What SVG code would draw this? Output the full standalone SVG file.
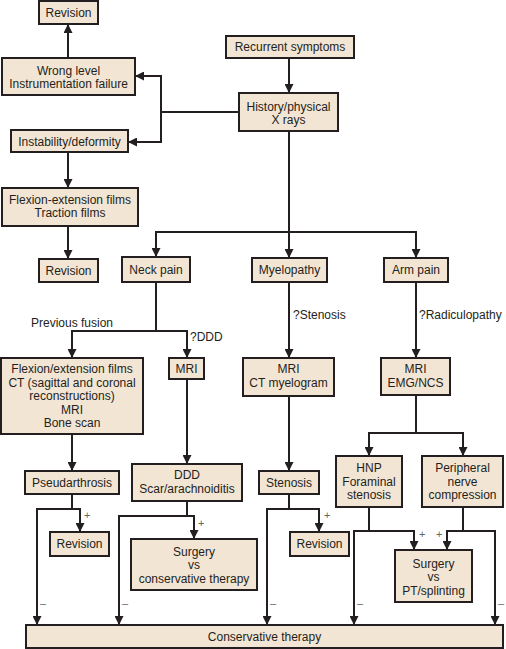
<svg xmlns="http://www.w3.org/2000/svg" width="506" height="649" viewBox="0 0 506 649">
<style>
.b rect{fill:#f3e5d4;stroke:#231f20;stroke-width:2}
text{font-family:"Liberation Sans",Arial,sans-serif;font-size:12px;fill:#231f20}
.c{text-anchor:middle}
.l{fill:none;stroke:#231f20;stroke-width:2}
.s{font-size:11px;fill:#666}
</style>
<defs>
<marker id="a" viewBox="0 0 10 10" refX="10" refY="5" markerWidth="11" markerHeight="9" markerUnits="userSpaceOnUse" orient="auto">
<path d="M0,0 L10,5 L0,10 z" fill="#231f20"/>
</marker>
</defs>
<rect width="506" height="649" fill="#fff"/>
<g id="connectors" class="l" marker-end="url(#a)">
<path d="M68,58 V24"/>
<path d="M289,58 V93"/>
<path d="M239,112 H161 V76 H135"/>
<path d="M161,112 V142 H128"/>
<path d="M68,152 V188"/>
<path d="M68,226 V259"/>
<path d="M289,131 V258"/>
<path d="M289,232 H156 V257"/>
<path d="M289,232 H416 V258"/>
<path d="M156,282 V331 H72 V358"/>
<path d="M156,331 H187 V358"/>
<path d="M289,282 V358"/>
<path d="M416,282 V358"/>
<path d="M187,379 V464"/>
<path d="M289,396 V471"/>
<path d="M72,434 V471"/>
<path d="M416,395 V433 H369 V456"/>
<path d="M416,433 H463 V456"/>
<path d="M72,494 V509 H37 V625"/>
<path d="M72,509 H80 V532"/>
<path d="M187,501 V516 H119 V625"/>
<path d="M187,516 H194 V539"/>
<path d="M289,494 V509 H267 V625"/>
<path d="M289,509 H319 V532"/>
<path d="M369,507 V531 H354 V625"/>
<path d="M369,531 H414 V550"/>
<path d="M463,507 V531 H495 V625"/>
<path d="M463,531 H447 V550"/>
</g>
<g id="labels">
<text x="31" y="327">Previous fusion</text>
<text x="190" y="341">?DDD</text>
<text x="293" y="319">?Stenosis</text>
<text x="419" y="319">?Radiculopathy</text>
<text class="s" x="84" y="519">+</text>
<text class="s" x="198" y="527">+</text>
<text class="s" x="324" y="519">+</text>
<text class="s" x="419" y="538">+</text>
<text class="s" x="436" y="538">+</text>
<text class="s" x="40" y="607">–</text>
<text class="s" x="122" y="607">–</text>
<text class="s" x="270" y="607">–</text>
<text class="s" x="357" y="607">–</text>
<text class="s" x="498" y="607">–</text>
</g>
<g id="rev1" class="b"><rect x="39" y="1" width="59" height="23"/><text class="c" x="68.5" y="17">Revision</text></g>
<g id="wrong" class="b"><rect x="2" y="58" width="133" height="37"/><text class="c" x="68.5" y="74.5">Wrong level</text><text class="c" x="68.5" y="87.5">Instrumentation failure</text></g>
<g id="instab" class="b"><rect x="11" y="130" width="117" height="22"/><text class="c" x="69.5" y="146">Instability/deformity</text></g>
<g id="flexext" class="b"><rect x="2" y="188" width="136" height="38"/><text class="c" x="70" y="204">Flexion-extension films</text><text class="c" x="70" y="217">Traction films</text></g>
<g id="rev2" class="b"><rect x="39" y="259" width="59" height="23"/><text class="c" x="68.5" y="274.5">Revision</text></g>
<g id="recurrent" class="b"><rect x="226" y="36" width="128" height="22"/><text class="c" x="290" y="51">Recurrent symptoms</text></g>
<g id="history" class="b"><rect x="239" y="93" width="99" height="38"/><text class="c" x="288.5" y="110.5">History/physical</text><text class="c" x="288.5" y="124">X rays</text></g>
<g id="neck" class="b"><rect x="122" y="257" width="68" height="25"/><text class="c" x="156" y="274">Neck pain</text></g>
<g id="myelo" class="b"><rect x="252" y="258" width="75" height="24"/><text class="c" x="289.5" y="274">Myelopathy</text></g>
<g id="arm" class="b"><rect x="384" y="258" width="64" height="24"/><text class="c" x="416" y="274">Arm pain</text></g>
<g id="flexct" class="b"><rect x="1" y="358" width="142" height="76"/><text class="c" x="72" y="373">Flexion/extension films</text><text class="c" x="72" y="386.5">CT (sagittal and coronal</text><text class="c" x="72" y="400">reconstructions)</text><text class="c" x="72" y="413.5">MRI</text><text class="c" x="72" y="427">Bone scan</text></g>
<g id="mri1" class="b"><rect x="169" y="358" width="35" height="21"/><text class="c" x="186.5" y="373">MRI</text></g>
<g id="mrict" class="b"><rect x="243" y="358" width="91" height="38"/><text class="c" x="288.5" y="373">MRI</text><text class="c" x="288.5" y="386.5">CT myelogram</text></g>
<g id="mriemg" class="b"><rect x="381" y="358" width="69" height="37"/><text class="c" x="415.5" y="373">MRI</text><text class="c" x="415.5" y="387">EMG/NCS</text></g>
<g id="pseud" class="b"><rect x="25" y="471" width="94" height="23"/><text class="c" x="72" y="487">Pseudarthrosis</text></g>
<g id="ddd" class="b"><rect x="132" y="464" width="110" height="37"/><text class="c" x="187" y="479">DDD</text><text class="c" x="187" y="492.5">Scar/arachnoiditis</text></g>
<g id="stenosis" class="b"><rect x="259" y="471" width="60" height="23"/><text class="c" x="289" y="487">Stenosis</text></g>
<g id="hnp" class="b"><rect x="336" y="456" width="66" height="51"/><text class="c" x="369" y="472">HNP</text><text class="c" x="369" y="486">Foraminal</text><text class="c" x="369" y="499">stenosis</text></g>
<g id="periph" class="b"><rect x="422" y="456" width="81" height="51"/><text class="c" x="462.5" y="472">Peripheral</text><text class="c" x="462.5" y="486">nerve</text><text class="c" x="462.5" y="499">compression</text></g>
<g id="rev3" class="b"><rect x="50" y="532" width="59" height="24"/><text class="c" x="79.5" y="548">Revision</text></g>
<g id="surgcons" class="b"><rect x="131" y="539" width="126" height="51"/><text class="c" x="194" y="555.5">Surgery</text><text class="c" x="194" y="569">vs</text><text class="c" x="194" y="583">conservative therapy</text></g>
<g id="rev4" class="b"><rect x="290" y="532" width="59" height="24"/><text class="c" x="319.5" y="548">Revision</text></g>
<g id="surgpt" class="b"><rect x="395" y="550" width="77" height="52"/><text class="c" x="433.5" y="567.5">Surgery</text><text class="c" x="433.5" y="581">vs</text><text class="c" x="433.5" y="594.5">PT/splinting</text></g>
<g id="cons" class="b"><rect x="26" y="625" width="477" height="23"/><text class="c" x="264.5" y="641">Conservative therapy</text></g>
</svg>
